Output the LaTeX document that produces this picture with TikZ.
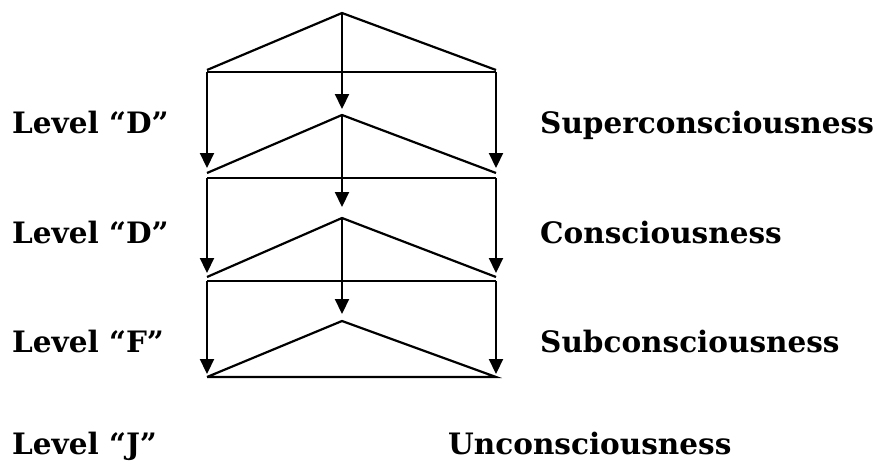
\documentclass[tikz,border=0pt]{standalone}
\usepackage{fontspec}
\setmainfont{DejaVu Serif}
\usetikzlibrary{arrows.meta}
\tikzset{
  ln/.style={line width=2.2pt, line cap=butt, line join=miter},
  arr/.style={ln, -{Triangle[length=15pt,width=14pt]}},
  lab/.style={anchor=base west, inner sep=0pt, font=\fontsize{29.5}{34}\selectfont\bfseries},
}
\begin{document}
\begin{tikzpicture}[x=1pt,y=-1pt]
\useasboundingbox (0,0) rectangle (876,463);
% level 1
\coordinate (a1) at (342,13);
\coordinate (l1) at (207,70);
\coordinate (r1) at (496,70);
\coordinate (hl1) at (207,72);
\coordinate (hr1) at (496,72);
\coordinate (al1) at (207,168);
\coordinate (ar1) at (496,168);
\coordinate (ac1) at (342,109);
% level 2
\coordinate (a2) at (342,115);
\coordinate (l2) at (207,173);
\coordinate (r2) at (496,173);
\coordinate (hl2) at (207,178);
\coordinate (hr2) at (496,178);
\coordinate (al2) at (207,273);
\coordinate (ar2) at (496,273);
\coordinate (ac2) at (342,207);
% level 3
\coordinate (a3) at (342,218);
\coordinate (l3) at (207,277);
\coordinate (r3) at (496,277);
\coordinate (hl3) at (207,281);
\coordinate (hr3) at (496,281);
\coordinate (al3) at (207,374);
\coordinate (ar3) at (496,374);
\coordinate (ac3) at (342,314);
% level 4
\coordinate (a4) at (342,321);
\coordinate (l4) at (207,377);
\coordinate (r4) at (496,377);

\draw[ln] (l1) -- (a1) -- (r1);
\draw[ln] (hl1) -- (hr1);
\draw[arr] (a1) -- (ac1);
\draw[arr] (hl1) -- (al1);
\draw[arr] (hr1) -- (ar1);

\draw[ln] (l2) -- (a2) -- (r2);
\draw[ln] (hl2) -- (hr2);
\draw[arr] (a2) -- (ac2);
\draw[arr] (hl2) -- (al2);
\draw[arr] (hr2) -- (ar2);

\draw[ln] (l3) -- (a3) -- (r3);
\draw[ln] (hl3) -- (hr3);
\draw[arr] (a3) -- (ac3);
\draw[arr] (hl3) -- (al3);
\draw[arr] (hr3) -- (ar3);

\draw[ln] (l4) -- (a4) -- (r4) -- (l4);

\node[lab] (lv1) at (12,133) {Level “D”};
\node[lab] (lv2) at (12,243) {Level “D”};
\node[lab] (lv3) at (12,352) {Level “F”};
\node[lab] (lv4) at (12,454) {Level “J”};
\node[lab] (t1) at (540,133) {Superconsciousness};
\node[lab] (t2) at (540,243) {Consciousness};
\node[lab] (t3) at (540,352) {Subconsciousness};
\node[lab] (t4) at (448,454) {Unconsciousness};
\end{tikzpicture}
\end{document}
